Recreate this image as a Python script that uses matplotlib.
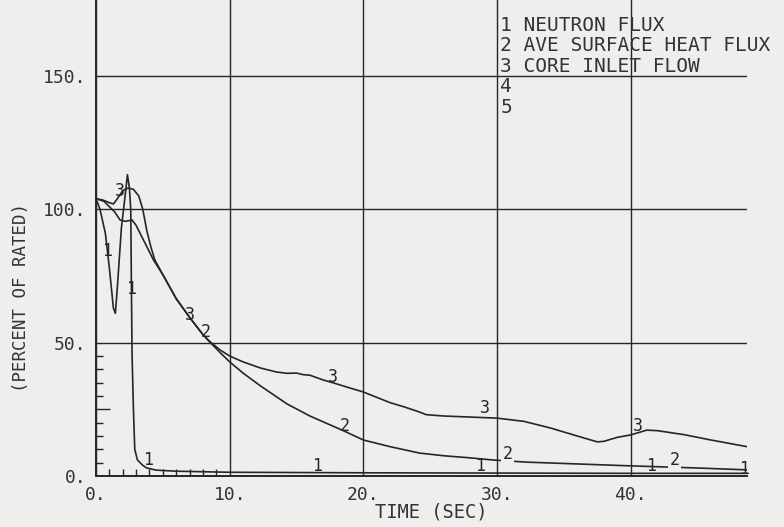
import numpy as np
import matplotlib
matplotlib.use("Agg")
import matplotlib.pyplot as plt

# curve 1 - neutron flux
t_flux = [0, 0.3, 0.7, 1.0, 1.3, 1.45, 1.6, 1.9, 2.2, 2.35, 2.5, 2.6, 2.65, 2.7, 2.8, 2.9,
          3.1, 3.5, 3.8, 4.5, 6, 8, 10, 15, 20, 30, 40, 48.7]
neutron_flux = [104, 100, 91, 78, 63, 61, 71, 93, 106, 113, 108, 100, 70, 45, 25, 10,
                6, 4, 3, 2.2, 1.8, 1.6, 1.4, 1.3, 1.2, 1.1, 1.0, 1.0]

# curve 2 - ave surface heat flux
t_heat = [0, 0.6, 1.0, 1.4, 1.8, 2.2, 2.7, 3.0, 3.4, 3.8, 4.3, 5, 6, 7, 8, 8.5, 9.3, 10,
          11, 12.3, 14.3, 16, 18.5, 20, 22, 24.2, 26, 28, 29.7, 32.2, 35, 40, 45, 48.7]
heat_flux = [104, 103, 101, 99, 96, 95.5, 96, 94, 90, 86, 81, 75.5, 66.5, 59.5, 53, 50.3,
             46.2, 42.8, 38.6, 33.8, 27, 22.5, 17, 13.5, 11, 8.6, 7.6, 6.8, 6, 5.2, 4.7,
             3.8, 3, 2.3]

# curve 3 - core inlet flow
t_inlet = [0, 0.5, 1.0, 1.3, 1.6, 2.0, 2.4, 2.8, 3.2, 3.5, 3.8, 4.1, 4.4, 5, 6, 7, 8, 8.5,
           9.3, 10, 11, 12.3, 13.5, 14.3, 15, 15.5, 16, 17, 17.7, 19, 20, 21, 22, 23, 24.2,
           24.7, 26, 28.5, 30, 32, 34, 36, 37.5, 38, 39, 40, 41.2, 42, 44, 46, 48.7]
inlet_flow = [104, 103.5, 102.5, 102, 104, 107, 108, 107.5, 105, 100, 92, 86, 81, 75.5,
              66.5, 59.5, 53, 50.5, 47.2, 45, 42.8, 40.5, 39, 38.5, 38.6, 38, 37.8, 36, 35,
              33, 31.5, 29.5, 27.5, 26, 24, 23, 22.5, 22, 21.7, 20.5, 18, 15, 12.8, 13,
              14.5, 15.4, 17.2, 17, 15.5, 13.5, 11]

legend_lines = ["1 NEUTRON FLUX", "2 AVE SURFACE HEAT FLUX", "3 CORE INLET FLOW", "4", "5"]

# curve number labels: (curve, x position, vertical offset in points)
curve_labels = [(1, 0.85, 0), (1, 2.65, 0), (1, 3.9, 6), (1, 16.5, 5), (1, 28.7, 5),
                (1, 41.5, 5), (1, 48.5, 3),
                (2, 8.2, 4), (2, 18.6, 4), (2, 30.8, 5), (2, 43.3, 5),
                (3, 1.8, 3), (3, 7.0, 2), (3, 17.7, 4), (3, 29.1, 7), (3, 40.5, 5)]

bg = "#eeeeec"
ink = "#262626"
mono = ["DejaVu Sans Mono"]

fig = plt.figure(figsize=(7.84, 5.27), dpi=100, facecolor=bg)
ax = fig.add_axes([96 / 784, 51 / 527, 651 / 784, 476 / 527])
ax.set_facecolor(bg)

series = {1: (t_flux, neutron_flux), 2: (t_heat, heat_flux), 3: (t_inlet, inlet_flow)}
for key in (1, 2, 3):
    tx, vy = series[key]
    ax.plot(tx, vy, color=ink, lw=1.2, zorder=3)

for key, xp, dy in curve_labels:
    tx, vy = series[key]
    yp = np.interp(xp, tx, vy)
    box = None
    if key == 2 and xp > 30:
        box = dict(facecolor=bg, edgecolor="none", pad=1)
    ax.annotate(str(key), (xp, yp), xytext=(0, dy), textcoords="offset points",
                ha="center", va="center", fontsize=12, family=mono, color=ink,
                bbox=box, zorder=4)

ax.set_xlim(0, 48.7)
ax.set_ylim(0, 178.5)
ax.set_xticks([0, 10, 20, 30, 40])
ax.set_xticklabels(["0.", "10.", "20.", "30.", "40."])
ax.set_yticks([0, 50, 100, 150])
ax.set_yticklabels(["0.", "50.", "100.", "150."])
ax.set_xticks(np.arange(1, 10), minor=True)
ax.set_yticks(np.arange(5, 50, 5), minor=True)
ax.tick_params(which="major", length=0, labelsize=13, labelcolor="#333333", pad=7)
ax.tick_params(which="minor", direction="in", length=5, width=1, color=ink)
for lab in ax.get_xticklabels() + ax.get_yticklabels():
    lab.set_family(mono)
ax.yaxis.get_minor_ticks()[4].tick1line.set_markersize(10)

ax.grid(True, which="major", color=ink, lw=1.0)
for side in ("top", "right"):
    ax.spines[side].set_visible(False)
for side in ("left", "bottom"):
    ax.spines[side].set_color(ink)
    ax.spines[side].set_linewidth(1.4)

for i, line in enumerate(legend_lines):
    ax.text(30.25, 169 - i * 7.7, line, fontsize=14, family=mono,
            color="#333333", va="center", ha="left", zorder=5)

fig.text(431 / 784, 1 - 512 / 527, "TIME (SEC)", ha="center", va="center",
         fontsize=13.5, family=mono, color="#333333")
fig.text(21 / 784, 1 - 298 / 527, "(PERCENT OF RATED)", ha="center", va="center",
         rotation=90, fontsize=12.5, family=mono, color="#333333")

fig.savefig("out.png", dpi=100, facecolor=bg)
